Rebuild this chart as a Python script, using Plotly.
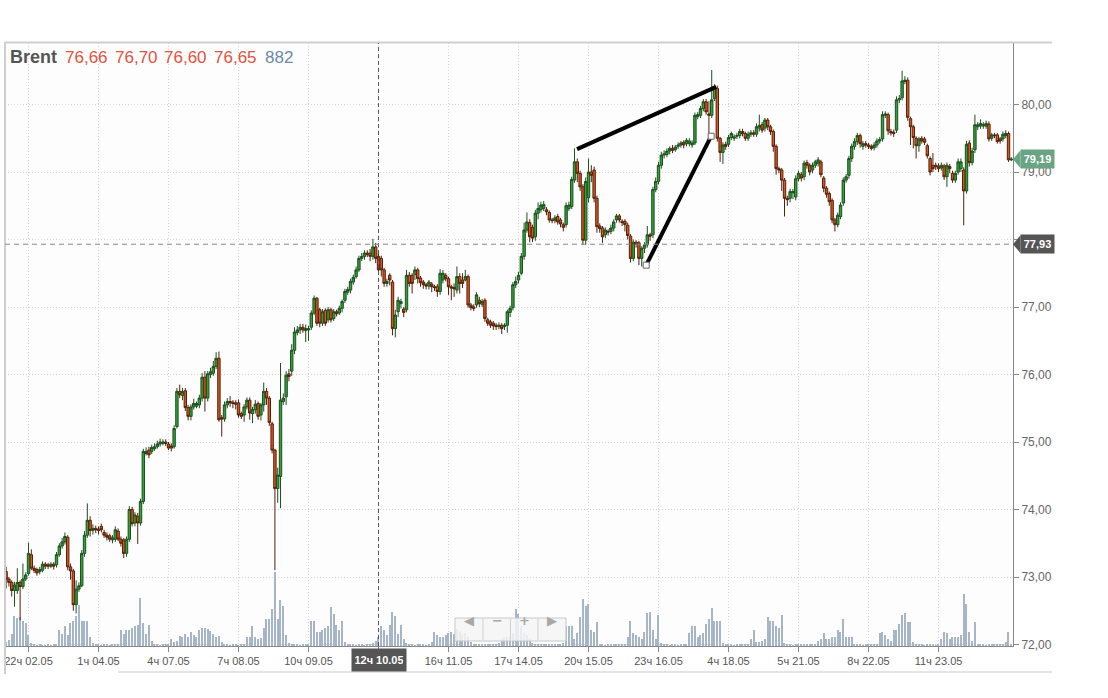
import plotly.graph_objects as go

# ---------------- data ----------------
opens = [
73.08,72.97,72.92,72.80,72.80,72.92,72.86,72.97,73.05,73.33,
73.13,73.11,73.08,73.10,73.19,73.18,73.16,73.19,73.18,73.33,
73.46,73.52,73.59,73.15,73.09,72.59,72.82,72.87,73.35,73.62,
73.84,73.69,73.72,73.71,73.75,73.66,73.62,73.61,73.55,73.56,
73.68,73.56,73.55,73.35,73.56,74.00,73.80,73.90,73.80,74.12,
74.83,74.88,74.86,74.90,74.93,74.97,74.98,75.00,74.97,74.94,
74.93,75.23,75.75,75.69,75.76,75.51,75.38,75.52,75.53,75.55,
75.65,75.96,75.65,76.00,76.02,76.12,76.24,75.36,75.34,75.55,
75.60,75.59,75.58,75.58,75.42,75.40,75.52,75.62,75.42,75.48,
75.57,75.40,75.55,75.75,75.65,75.27,74.88,74.31,74.49,75.60,
75.67,76.01,76.05,76.36,76.62,76.66,76.70,76.65,76.66,76.70,
76.91,77.13,76.96,76.76,76.95,76.81,76.96,76.83,76.93,76.91,
76.98,77.10,77.22,77.25,77.37,77.45,77.55,77.72,77.75,77.80,
77.80,77.75,77.89,77.75,77.72,77.55,77.35,77.47,77.37,76.68,
76.93,77.05,76.97,76.96,77.47,77.47,77.48,77.55,77.43,77.37,
77.33,77.31,77.34,77.30,77.30,77.23,77.40,77.47,77.42,77.30,
77.29,77.25,77.45,77.40,77.40,77.45,77.03,77.00,77.03,77.10,
77.04,77.10,76.81,76.78,76.76,76.73,76.71,76.73,76.71,76.73,
76.92,76.99,77.33,77.40,77.50,77.75,78.14,78.25,78.18,78.04,
78.39,78.44,78.46,78.44,78.40,78.29,78.28,78.34,78.29,78.22,
78.22,78.46,78.49,78.88,79.15,78.98,78.78,77.99,78.62,79.00,
79.03,78.61,78.20,78.17,78.07,78.12,78.12,78.17,78.29,78.35,
78.27,78.27,78.21,78.05,77.72,77.96,77.95,77.72,77.87,77.92,
78.07,78.07,78.74,78.86,79.10,79.25,79.26,79.31,79.35,79.33,
79.38,79.40,79.44,79.42,79.42,79.40,79.43,79.82,79.84,79.94,
80.04,79.86,79.84,80.09,80.24,79.50,79.29,79.41,79.41,79.51,
79.50,79.53,79.54,79.60,79.57,79.50,79.56,79.58,79.56,79.65,
79.70,79.65,79.77,79.67,79.60,79.38,79.05,79.03,78.88,78.61,
78.61,78.69,78.63,78.90,78.96,78.93,79.14,79.10,79.03,79.10,
79.13,79.15,78.91,78.76,78.68,78.58,78.29,78.22,78.34,78.54,
78.88,78.95,79.20,79.38,79.45,79.54,79.38,79.42,79.40,79.38,
79.36,79.40,79.46,79.49,79.84,79.85,79.60,79.59,79.62,80.07,
80.10,80.34,80.36,79.79,79.67,79.50,79.39,79.50,79.49,79.39,
79.20,79.10,79.10,79.09,79.06,79.09,78.93,79.08,78.98,78.88,
79.00,79.05,79.03,78.72,79.43,79.14,79.33,79.67,79.68,79.68,
79.68,79.71,79.50,79.55,79.55,79.49,79.49,79.54,79.57,79.18]

highs = [
73.15,73.00,72.95,72.93,73.13,72.95,73.20,73.07,73.51,73.41,
73.17,73.14,73.15,73.23,73.22,73.21,73.22,73.22,73.37,73.50,
73.58,73.66,73.62,73.20,73.12,72.95,72.92,73.40,73.68,74.09,
73.90,73.78,73.76,73.75,73.79,73.70,73.66,73.64,73.62,73.75,
73.72,73.60,73.58,73.60,74.05,74.04,73.96,73.95,74.16,74.90,
74.92,74.93,74.96,74.98,75.02,75.05,75.04,75.04,75.00,74.98,
75.25,75.80,75.85,75.80,75.80,75.55,75.56,75.64,75.60,75.70,
76.02,76.05,76.05,76.10,76.20,76.33,76.34,75.40,75.60,75.65,
75.68,75.62,75.62,75.63,75.45,75.56,75.66,75.66,75.52,75.62,
75.60,75.58,75.88,75.80,75.68,75.30,74.90,74.62,76.17,75.72,
76.05,76.08,76.45,76.70,76.72,76.75,76.75,76.74,76.72,76.95,
77.17,77.15,76.99,76.97,76.98,77.00,76.99,76.97,76.96,77.02,
77.11,77.27,77.30,77.42,77.48,77.60,77.76,77.80,77.84,77.84,
77.86,78.01,77.95,77.80,77.76,77.58,77.42,77.50,77.40,76.96,
77.15,77.12,77.00,77.55,77.52,77.50,77.60,77.58,77.46,77.40,
77.36,77.40,77.37,77.33,77.34,77.56,77.55,77.50,77.45,77.33,
77.35,77.60,77.50,77.50,77.55,77.48,77.06,77.04,77.22,77.15,
77.12,77.13,76.84,76.81,76.79,76.76,76.77,76.76,76.76,76.96,
77.02,77.37,77.45,77.52,77.80,78.25,78.40,78.30,78.22,78.44,
78.55,78.56,78.57,78.48,78.43,78.32,78.36,78.38,78.32,78.25,
78.55,78.56,78.93,79.35,79.20,79.02,78.82,78.92,79.20,79.10,
79.08,78.65,78.24,78.20,78.18,78.15,78.22,78.30,78.38,78.38,
78.30,78.30,78.25,78.08,78.00,77.99,77.98,77.90,77.96,78.20,
78.10,78.78,78.92,79.15,79.30,79.32,79.35,79.38,79.40,79.40,
79.44,79.46,79.47,79.50,79.50,79.47,79.88,79.89,79.98,80.08,
80.08,80.05,80.51,80.30,80.28,79.52,79.44,79.45,79.55,79.60,
79.56,79.58,79.64,79.64,79.60,79.60,79.62,79.62,79.72,79.85,
79.74,79.80,79.80,79.70,79.63,79.41,79.08,79.06,78.91,78.65,
78.75,78.75,78.95,79.02,79.00,79.17,79.18,79.13,79.14,79.18,
79.22,79.18,78.94,78.79,78.71,78.61,78.32,78.40,78.55,78.92,
78.97,79.24,79.42,79.50,79.58,79.57,79.46,79.46,79.43,79.41,
79.44,79.50,79.52,79.90,79.90,79.88,79.64,79.63,80.12,80.14,
80.50,80.42,80.40,79.82,79.70,79.53,79.52,79.53,79.52,79.42,
79.23,79.28,79.14,79.13,79.14,79.12,79.14,79.12,79.02,79.02,
79.20,79.20,79.07,79.46,79.47,79.36,79.85,79.74,79.78,79.74,
79.76,79.75,79.58,79.58,79.58,79.52,79.60,79.62,79.60,79.22]

lows = [
72.83,72.86,72.71,72.56,72.75,72.36,72.82,72.94,73.02,73.10,
73.06,73.02,73.04,73.07,73.12,73.12,73.13,73.11,73.14,73.30,
73.42,73.48,73.10,72.96,72.50,72.46,72.78,72.85,73.30,73.58,
73.60,73.63,73.65,73.63,73.66,73.58,73.54,73.52,73.50,73.52,
73.53,73.45,73.28,73.30,73.52,73.75,73.75,73.49,73.76,74.08,
74.80,74.76,74.82,74.87,74.90,74.93,74.95,74.94,74.88,74.86,
74.90,75.20,75.65,75.62,75.46,75.32,75.32,75.48,75.50,75.50,
75.60,75.45,75.60,75.95,75.98,76.08,75.30,75.08,75.30,75.50,
75.52,75.50,75.48,75.36,75.34,75.30,75.48,75.33,75.28,75.42,
75.33,75.32,75.45,75.55,75.24,74.83,73.10,74.10,74.02,75.55,
75.55,75.90,75.98,76.30,76.58,76.60,76.62,76.48,76.50,76.66,
76.88,76.72,76.70,76.72,76.72,76.77,76.77,76.79,76.86,76.88,
76.92,77.06,77.18,77.20,77.33,77.42,77.52,77.68,77.70,77.74,
77.68,77.70,77.65,77.50,77.45,77.30,77.30,77.32,76.58,76.55,
76.85,76.98,76.85,76.92,77.30,77.20,77.40,77.35,77.30,77.27,
77.26,77.26,77.22,77.24,77.15,77.18,77.35,77.38,77.18,77.10,
77.15,77.20,77.20,77.28,77.38,76.99,76.95,76.94,76.99,77.00,
77.00,76.78,76.72,76.69,76.66,76.66,76.67,76.60,76.66,76.62,
76.85,76.95,77.28,77.35,77.47,77.70,78.10,77.96,77.96,77.98,
78.30,78.40,78.42,78.36,78.25,78.24,78.24,78.22,78.18,78.12,
78.18,78.42,78.45,78.84,78.85,78.72,77.92,77.92,78.55,78.85,
78.55,78.10,78.10,77.95,78.02,78.06,78.08,78.12,78.25,78.25,
78.20,78.12,78.00,77.66,77.68,77.88,77.62,77.60,77.80,77.88,
77.98,78.02,78.70,78.82,79.05,79.20,79.22,79.26,79.28,79.30,
79.34,79.36,79.35,79.38,79.38,79.36,79.40,79.78,79.80,79.90,
79.85,79.52,79.80,80.05,79.45,79.15,79.12,79.33,79.37,79.47,
79.46,79.49,79.50,79.53,79.46,79.46,79.52,79.52,79.52,79.60,
79.58,79.60,79.62,79.55,79.30,78.96,78.98,78.72,78.34,78.50,
78.55,78.60,78.58,78.86,78.86,78.88,79.05,78.95,78.98,79.06,
79.08,78.92,78.70,78.62,78.50,78.24,78.12,78.18,78.30,78.50,
78.84,78.90,79.15,79.33,79.40,79.36,79.33,79.36,79.34,79.32,
79.32,79.36,79.42,79.45,79.80,79.55,79.54,79.52,79.58,80.02,
80.06,80.30,79.76,79.40,79.35,79.20,79.30,79.42,79.40,79.20,
78.95,79.00,79.03,79.00,79.02,78.88,78.78,78.98,78.84,78.84,
78.96,79.00,78.21,78.68,79.08,79.10,79.28,79.62,79.64,79.64,
79.64,79.45,79.46,79.50,79.42,79.42,79.45,79.50,79.15,79.16]

closes = [
72.97,72.92,72.80,72.88,72.92,72.86,72.97,73.03,73.35,73.13,
73.10,73.06,73.11,73.19,73.16,73.16,73.19,73.16,73.33,73.46,
73.52,73.60,73.15,73.09,72.59,72.82,72.87,73.35,73.62,73.84,
73.69,73.72,73.70,73.69,73.70,73.62,73.59,73.56,73.58,73.70,
73.56,73.50,73.35,73.56,74.00,73.79,73.92,73.80,74.12,74.86,
74.86,74.81,74.92,74.93,74.97,75.00,75.00,74.98,74.91,74.91,
75.20,75.75,75.70,75.75,75.51,75.38,75.52,75.57,75.57,75.65,
75.96,75.65,76.01,76.04,76.12,76.24,75.33,75.34,75.55,75.60,
75.58,75.57,75.56,75.40,75.38,75.52,75.62,75.43,75.48,75.56,
75.38,75.55,75.75,75.65,75.29,74.88,74.31,74.51,75.62,75.65,
75.99,75.97,76.36,76.63,76.66,76.70,76.66,76.68,76.68,76.91,
77.13,76.76,76.76,76.93,76.76,76.96,76.81,76.93,76.90,76.98,
77.08,77.23,77.26,77.38,77.44,77.55,77.72,77.75,77.80,77.78,
77.75,77.89,77.72,77.55,77.55,77.35,77.38,77.40,76.68,76.88,
77.10,77.08,76.92,77.47,77.35,77.35,77.55,77.42,77.36,77.33,
77.31,77.37,77.30,77.29,77.23,77.50,77.50,77.42,77.30,77.28,
77.27,77.45,77.35,77.35,77.45,77.03,76.99,76.98,77.18,77.05,
77.08,76.83,76.76,76.73,76.72,76.71,76.73,76.68,76.73,76.93,
76.98,77.33,77.38,77.47,77.75,78.14,78.26,78.04,78.02,78.39,
78.46,78.51,78.52,78.41,78.29,78.28,78.32,78.26,78.23,78.18,
78.50,78.51,78.89,79.15,78.98,78.78,77.99,78.86,79.00,78.95,
78.61,78.19,78.16,78.04,78.14,78.11,78.17,78.26,78.35,78.29,
78.25,78.22,78.06,77.72,77.96,77.93,77.72,77.87,77.92,78.07,
78.05,78.74,78.86,79.10,79.25,79.27,79.31,79.35,79.32,79.37,
79.40,79.43,79.40,79.47,79.46,79.43,79.84,79.85,79.94,80.04,
79.89,79.84,80.07,80.26,79.50,79.29,79.40,79.38,79.51,79.57,
79.52,79.54,79.60,79.57,79.50,79.56,79.58,79.56,79.67,79.69,
79.62,79.77,79.67,79.60,79.38,79.05,79.03,78.88,78.61,78.59,
78.71,78.71,78.90,78.98,78.91,79.13,79.10,79.00,79.10,79.15,
79.18,78.96,78.76,78.67,78.56,78.29,78.22,78.36,78.51,78.88,
78.93,79.20,79.38,79.45,79.54,79.42,79.42,79.40,79.38,79.35,
79.40,79.46,79.48,79.85,79.86,79.61,79.58,79.57,80.07,80.09,
80.35,80.36,79.81,79.67,79.51,79.39,79.49,79.46,79.44,79.24,
79.00,79.05,79.08,79.05,79.10,78.93,79.10,79.05,78.88,78.98,
79.15,79.15,78.72,79.41,79.14,79.31,79.70,79.70,79.72,79.70,
79.72,79.49,79.55,79.54,79.45,79.46,79.56,79.57,79.18,79.19]

volumes = [
150,200,420,1050,980,1000,870,800,380,120,
40,30,50,35,25,40,30,45,60,
560,420,700,390,800,880,1050,1430,880,870,880,320,120,
50,40,30,60,45,35,50,40,70,
560,420,560,560,630,700,740,1680,800,420,740,180,60,
40,30,40,50,60,250,130,180,350,300,420,300,500,380,300,560,620,620,600,520,420,300,350,150,80,
40,30,50,40,35,60,50,
310,320,700,310,250,280,630,940,950,1300,2600,950,1600,1400,390,100,
50,40,60,30,50,40,70,
870,880,500,490,560,630,700,1370,1120,740,560,880,140,60,
40,50,30,40,60,35,45,80,120,
180,320,700,560,380,740,1190,1060,420,740,250,120,
40,50,30,60,40,50,30,60,
140,490,380,320,320,390,450,500,420,600,520,380,450,300,150,
60,50,40,70,50,40,60,50,
80,120,250,320,320,320,440,1300,1120,700,440,380,250,100,60,
40,60,50,40,70,50,60,40,80,120,
700,700,700,250,460,1020,1650,1400,1470,560,490,840,
40,60,30,50,40,60,50,40,70,60,
320,880,460,380,320,250,490,1150,1190,560,250,1080,100,
40,50,30,60,45,35,50,40,70,
450,700,700,320,380,450,770,950,1330,880,880,880,100,
50,40,60,30,50,40,70,50,40,
250,560,140,140,180,250,1020,880,880,700,630,1080,100,
40,60,30,50,40,60,50,40,70,60,50,
180,250,450,250,250,320,320,560,490,950,320,320,320,
60,40,50,30,60,40,50,40,70,
450,490,380,250,180,560,560,770,1080,1150,840,840,140,60,
40,50,30,60,40,50,30,60,
250,490,450,250,320,320,320,380,1820,1470,490,180,840,
50,40,60,30,50,40,70,50,40,60,
140,490,60]

tick_index = [8, 33, 58, 83, 108, 133, 158, 183, 208, 233, 258, 283, 308, 333]
tick_labels = ["22ч 02.05", "1ч 04.05", "4ч 07.05", "7ч 08.05", "10ч 09.05", "",
               "16ч 11.05", "17ч 14.05", "20ч 15.05", "23ч 16.05", "4ч 18.05",
               "5ч 21.05", "8ч 22.05", "11ч 23.05"]
price_ticks = [72, 73, 74, 75, 76, 77, 78, 79, 80]
# the 78,00 label is hidden under the crosshair price tag in the reference
price_tick_labels = ["72,00", "73,00", "74,00", "75,00", "76,00", "77,00", "", "79,00", "80,00"]

cross_index = 133
cross_label = "12ч 10.05"
cross_price = 77.93
last_price = 79.19

header_name = "Brent"
header_vals = ["76,66", "76,70", "76,60", "76,65"]
header_vol = "882"

# hand-drawn trend lines (index, price)
trend1_x = [203.9, 253.6]
trend1_y = [79.34, 80.26]
trend2_x = [228.6, 251.8]
trend2_y = [77.62, 79.53]

n = len(closes)
assert len(opens) == n and len(highs) == n and len(lows) == n and len(volumes) == n, (
    len(opens), len(highs), len(lows), len(closes), len(volumes))
idx = list(range(n))

FONT = "Liberation Sans, Arial, sans-serif"

# plot area in pixels: x 5..1013, y 43..646
L, R, T, B = 5, 1013, 43, 646
W, H = 1108, 698
def px(x):
    return (x - L) / (R - L)
def py(y):
    return (B - y) / (B - T)

fig = go.Figure()
fig.add_trace(go.Bar(x=idx, y=volumes, yaxis="y", marker=dict(color="#a6b6c8", line=dict(width=0)),
                     width=0.4, hoverinfo="skip"))
fig.add_trace(go.Candlestick(
    x=idx, open=opens, high=highs, low=lows, close=closes, yaxis="y2",
    increasing=dict(fillcolor="#2fa236", line=dict(color="#1d4f1f", width=1)),
    decreasing=dict(fillcolor="#dc551c", line=dict(color="#55200b", width=1)),
    whiskerwidth=0, hoverinfo="skip"))
fig.add_trace(go.Scatter(x=trend1_x, y=trend1_y, yaxis="y2", mode="lines",
                         line=dict(color="black", width=4), hoverinfo="skip"))
fig.add_trace(go.Scatter(x=trend2_x, y=trend2_y, yaxis="y2", mode="lines+markers",
                         line=dict(color="black", width=4),
                         marker=dict(symbol="square", size=6, color="white",
                                     line=dict(color="#666", width=1)), hoverinfo="skip"))

y_lo = 72 - (B - 644.5) / 67.5
y_hi = 80 + (104.5 - T) / 67.5

fig.update_layout(
    width=W, height=H,
    margin=dict(l=L, r=W - R, t=T, b=H - B, pad=0),
    paper_bgcolor="white", plot_bgcolor="#fdfdfd",
    showlegend=False, separators=", ", bargap=0, boxgap=0.15, boxgroupgap=0,
    font=dict(family=FONT, color="#555"),
    xaxis=dict(range=[-0.4, n - 0.4], tickmode="array", tickvals=tick_index, ticktext=tick_labels,
               showgrid=True, gridcolor="#d6d6d6", griddash="1px,2px", gridwidth=1,
               ticks="outside", ticklen=5, tickcolor="#888", showline=True, linecolor="#888",
               linewidth=1, zeroline=False, rangeslider=dict(visible=False),
               tickfont=dict(size=11, color="#555", family=FONT)),
    yaxis=dict(range=[0, 21100], visible=False, showgrid=False, zeroline=False),
    yaxis2=dict(overlaying="y", side="right", range=[y_lo, y_hi], tickmode="array",
                tickvals=price_ticks, ticktext=price_tick_labels, showgrid=True, gridcolor="#d6d6d6",
                griddash="1px,2px", ticks="outside", ticklen=5, tickcolor="#888", showline=True,
                linecolor="#888", linewidth=1, zeroline=False,
                tickfont=dict(size=12, color="#666", family=FONT)),
)

shapes = []
# frame lines
shapes.append(dict(type="line", xref="paper", yref="paper", x0=0, x1=px(1052), y0=py(42.5), y1=py(42.5),
                   line=dict(color="#cfcfcf", width=2)))
shapes.append(dict(type="line", xref="paper", yref="paper", x0=0, x1=0, y0=py(42), y1=py(674),
                   line=dict(color="#cfcfcf", width=2)))
shapes.append(dict(type="line", xref="paper", yref="paper", x0=px(118), x1=px(1052), y0=py(672), y1=py(672),
                   line=dict(color="#c8c8c8", width=1)))
# crosshair
shapes.append(dict(type="line", xref="x", yref="paper", x0=cross_index, x1=cross_index, y0=0, y1=1,
                   line=dict(color="#555", width=1, dash="4px,3px"), layer="above"))
shapes.append(dict(type="line", xref="paper", yref="y2", x0=0, x1=1, y0=cross_price, y1=cross_price,
                   line=dict(color="#888", width=1, dash="5px,4px"), layer="above"))

# price tag arrows on the right axis
hh = 9 / 67.5
def tag_arrow(p):
    return f"M 1.0 {p} L {px(1020.5)} {p - hh} L {px(1020.5)} {p + hh} Z"
shapes.append(dict(type="path", xref="paper", yref="y2", path=tag_arrow(last_price),
                   fillcolor="#6aa583", line=dict(width=0)))
shapes.append(dict(type="path", xref="paper", yref="y2", path=tag_arrow(cross_price),
                   fillcolor="#555555", line=dict(width=0)))
# navigation buttons
shapes.append(dict(type="rect", xref="paper", yref="paper", x0=px(455), x1=px(566), y0=py(641), y1=py(618),
                   fillcolor="rgba(245,245,245,0.85)", line=dict(color="#c8c8c8", width=1)))
for xd in (483, 510.5, 538):
    shapes.append(dict(type="line", xref="paper", yref="paper", x0=px(xd), x1=px(xd), y0=py(640), y1=py(619),
                       line=dict(color="#d0d0d0", width=1)))

annotations = []
for p, col in ((last_price, "#6aa583"), (cross_price, "#555555")):
    annotations.append(dict(xref="paper", yref="y2", x=px(1020), y=p, xanchor="left", yanchor="middle",
                            text="<b>" + f"{p:.2f}".replace(".", ",") + "</b>", showarrow=False,
                            bgcolor=col, borderpad=2, width=29, height=14, align="center",
                            font=dict(size=11, color="white", family=FONT)))
annotations.append(dict(xref="x", yref="paper", x=cross_index, y=py(660), xanchor="center", yanchor="middle",
                        text="<b>" + cross_label + "</b>", showarrow=False, bgcolor="#555555",
                        borderpad=3, width=48, height=16,
                        font=dict(size=11, color="white", family=FONT)))
# header
annotations.append(dict(xref="paper", yref="paper", x=px(8), y=py(57), xanchor="left", yanchor="middle",
                        text="<b>" + header_name + "</b>", showarrow=False,
                        font=dict(size=18, color="#555", family=FONT)))
for xpos, v in zip((63, 113, 162, 212), header_vals):
    annotations.append(dict(xref="paper", yref="paper", x=px(xpos), y=py(57), xanchor="left", yanchor="middle",
                            text=v, showarrow=False, font=dict(size=17, color="#e0533f", family=FONT)))
annotations.append(dict(xref="paper", yref="paper", x=px(263), y=py(57), xanchor="left", yanchor="middle",
                        text=header_vol, showarrow=False, font=dict(size=17, color="#6d89a6", family=FONT)))
# nav button glyphs
for xc, g in zip((469, 497, 524, 552), ("◀", "−", "+", "▶")):
    annotations.append(dict(xref="paper", yref="paper", x=px(xc), y=py(629.5), text="<b>" + g + "</b>",
                            showarrow=False, font=dict(size=13, color="#a8a8a8", family="DejaVu Sans")))

fig.update_layout(shapes=shapes, annotations=annotations)
fig.write_html("out.html", config={"displayModeBar": False},
               post_script="document.body.style.margin='0px';document.body.style.padding='0px';")
